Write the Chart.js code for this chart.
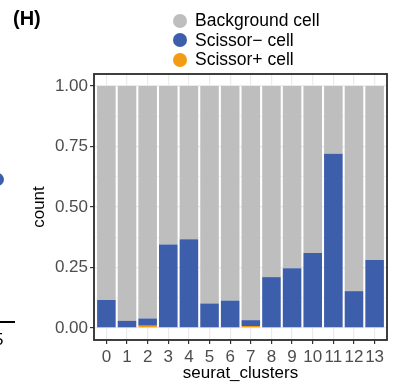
<!DOCTYPE html>
<html>
<head>
<meta charset="utf-8">
<script src="https://cdn.jsdelivr.net/npm/chart.js@4.4.1/dist/chart.umd.min.js"></script>
<style>
  body { margin: 0; background: #fff; }
  #wrap { position: relative; width: 395px; height: 384px; overflow: hidden; font-family: 'Liberation Sans', Arial, sans-serif; }
  #chart { position: absolute; left: 0; top: 0; }
  #tag { position: absolute; left: 13px; top: 7px; font-size: 20px; font-weight: bold; color: #000; }
  #legend { position: absolute; left: 173px; top: 11px; }
  .item { height: 19.5px; display: flex; align-items: center; font-size: 17.5px; color: #000; white-space: nowrap; }
  .dot { width: 14px; height: 14px; border-radius: 50%; margin-right: 8px; }
  .bit { position: absolute; }
</style>
</head>
<body>
<div id="wrap">
  <canvas id="chart" width="395" height="384"></canvas>
  <div id="tag">(H)</div>
  <div id="legend"></div>
  <div class="bit" style="left:-9px;top:173px;width:13px;height:13px;border-radius:50%;background:#3d5eab"></div>
  <div class="bit" style="left:0;top:321px;width:15px;height:2px;background:#000"></div>
  <div class="bit" style="left:-6px;top:330px;font-size:17px;color:#000">5</div>
</div>
<script>
const clusters = ['0', '1', '2', '3', '4', '5', '6', '7', '8', '9', '10', '11', '12', '13'];
const scissorPos = [0, 0, 0.009, 0, 0, 0, 0, 0.008, 0, 0, 0, 0, 0, 0];
const scissorNeg = [0.116, 0.029, 0.030, 0.345, 0.367, 0.101, 0.113, 0.024, 0.210, 0.247, 0.310, 0.720, 0.152, 0.281];
const background = [0.884, 0.971, 0.961, 0.655, 0.633, 0.899, 0.887, 0.968, 0.790, 0.753, 0.690, 0.280, 0.848, 0.719];
const yTicks = [0, 0.25, 0.5, 0.75, 1];
const yMinor = [0.125, 0.375, 0.625, 0.875];

const toPts = arr => arr.map((v, i) => ({ x: i, y: v }));

const panelBox = {
  id: 'panelBox',
  afterDraw(chart) {
    const { ctx, chartArea: a } = chart;
    ctx.save();
    ctx.strokeStyle = '#2b2b2b';
    ctx.lineWidth = 1.8;
    ctx.strokeRect(a.left, a.top, a.right - a.left, a.bottom - a.top);
    ctx.restore();
  }
};

const tickFont = { family: "'Liberation Sans', Arial, sans-serif", size: 17 };

const chart = new Chart(document.getElementById('chart'), {
  type: 'bar',
  data: {
    datasets: [
      { label: 'Scissor+ cell', data: toPts(scissorPos), backgroundColor: '#f39b13' },
      { label: 'Scissor\u2212 cell', data: toPts(scissorNeg), backgroundColor: '#3d5eab' },
      { label: 'Background cell', data: toPts(background), backgroundColor: '#bebebe' }
    ]
  },
  plugins: [panelBox],
  options: {
    responsive: false,
    animation: false,
    layout: { padding: { left: 0, top: 74, right: 8, bottom: 0 } },
    datasets: { bar: { barPercentage: 0.9, categoryPercentage: 1, borderWidth: 0 } },
    plugins: { legend: { display: false }, tooltip: { enabled: false } },
    scales: {
      x: {
        type: 'linear',
        stacked: true,
        offset: false,
        min: -0.6,
        max: 13.6,
        afterBuildTicks: s => { s.ticks = clusters.map((c, i) => ({ value: i })); },
        afterFit: s => { s.height = 44; },
        ticks: {
          autoSkip: false, maxRotation: 0, padding: 3,
          color: '#4d4d4d', font: tickFont,
          callback: v => clusters[v]
        },
        grid: { offset: false, color: '#ebebeb', lineWidth: 1.2, tickColor: '#333333', tickLength: 4, tickWidth: 1.2 },
        border: { display: false },
        title: { display: true, text: 'seurat_clusters', color: '#000', font: tickFont, padding: { top: 0, bottom: 0 } }
      },
      y: {
        stacked: true,
        min: -0.05,
        max: 1.05,
        afterBuildTicks: s => { s.ticks = yTicks.concat(yMinor).sort((a, b) => a - b).map(v => ({ value: v })); },
        afterFit: s => { s.width = 94; },
        ticks: {
          padding: 2, color: '#4d4d4d', font: tickFont,
          callback: v => yTicks.includes(v) ? v.toFixed(2) : ''
        },
        grid: {
          color: '#ebebeb',
          lineWidth: c => yTicks.includes(c.tick.value) ? 1.2 : 0.6,
          tickColor: c => yTicks.includes(c.tick.value) ? '#333333' : 'rgba(0,0,0,0)',
          tickLength: 4, tickWidth: 1.2
        },
        border: { display: false },
        title: { display: true, text: 'count', color: '#000', font: tickFont, padding: { top: 29, bottom: 0 } }
      }
    }
  }
});

const legend = document.getElementById('legend');
chart.data.datasets.slice().reverse().forEach(ds => {
  const row = document.createElement('div');
  row.className = 'item';
  row.innerHTML = '<span class="dot" style="background:' + ds.backgroundColor + '"></span>' + ds.label;
  legend.appendChild(row);
});
</script>
</body>
</html>
